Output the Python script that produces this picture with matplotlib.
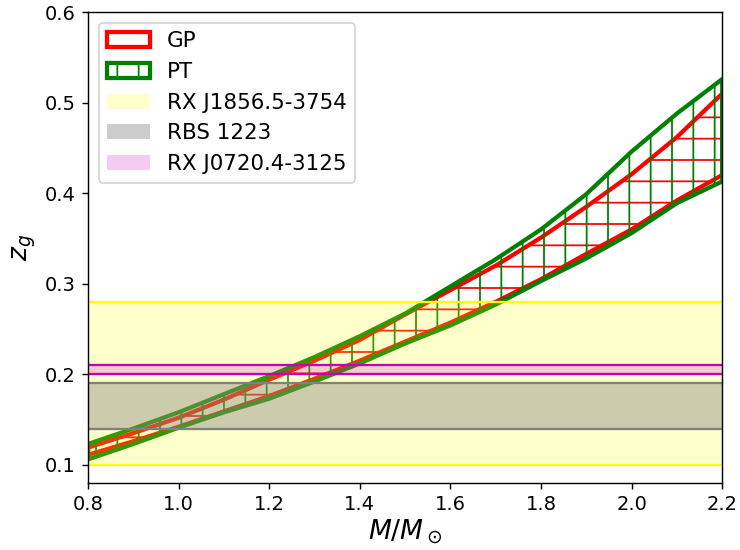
import matplotlib
matplotlib.use("Agg")
import matplotlib.pyplot as plt
import numpy as np

# mass grid (M/Msun) and redshift bands
mass = [0.8, 0.9, 1.0, 1.1, 1.2, 1.3, 1.4, 1.5, 1.6, 1.7, 1.8, 1.9, 2.0, 2.1, 2.2]
gp_low = [0.111, 0.126, 0.142, 0.159, 0.176, 0.195, 0.215, 0.236, 0.257, 0.280, 0.305, 0.333, 0.360, 0.392, 0.420]
gp_high = [0.119, 0.135, 0.152, 0.172, 0.194, 0.215, 0.238, 0.266, 0.293, 0.320, 0.351, 0.385, 0.421, 0.462, 0.510]
pt_low = [0.106, 0.123, 0.141, 0.158, 0.173, 0.192, 0.212, 0.234, 0.254, 0.277, 0.303, 0.328, 0.356, 0.389, 0.413]
pt_high = [0.123, 0.140, 0.158, 0.178, 0.198, 0.219, 0.242, 0.267, 0.297, 0.327, 0.360, 0.399, 0.446, 0.488, 0.526]

# observed gravitational redshift ranges
obs_names = ["RX J1856.5-3754", "RBS 1223", "RX J0720.4-3125"]
obs_low = [0.10, 0.14, 0.20]
obs_high = [0.28, 0.19, 0.21]
obs_colors = ["yellow", "gray", "m"]
obs_alpha = [0.2, 0.4, 0.2]

fig = plt.figure(figsize=(740 / 128, 550 / 128), dpi=128)
ax = fig.add_subplot(111)
fig.subplots_adjust(left=0.119, right=0.976, bottom=0.122, top=0.978)

ax.fill_between(mass, gp_low, gp_high, facecolor="none", edgecolor="red",
                hatch="-", linewidth=2.4, label="GP")
ax.fill_between(mass, pt_low, pt_high, facecolor="none", edgecolor="green",
                hatch="|", linewidth=2.4, label="PT")

for name, lo, hi, c, a in zip(obs_names, obs_low, obs_high, obs_colors, obs_alpha):
    ax.axhspan(lo, hi, facecolor=c, alpha=a, edgecolor="none", label=name)
    ax.axhline(lo, color=c, lw=1.3)
    ax.axhline(hi, color=c, lw=1.3)

ax.set_xlim(0.8, 2.2)
ax.set_ylim(0.08, 0.6)
ax.tick_params(labelsize=11)
ax.set_xlabel(r"$M/M_\odot$", fontsize=15, labelpad=2)
ax.set_ylabel(r"$z_g$", fontsize=15)
ax.legend(loc="upper left", fontsize=12)

fig.savefig("out.png", dpi=128)
